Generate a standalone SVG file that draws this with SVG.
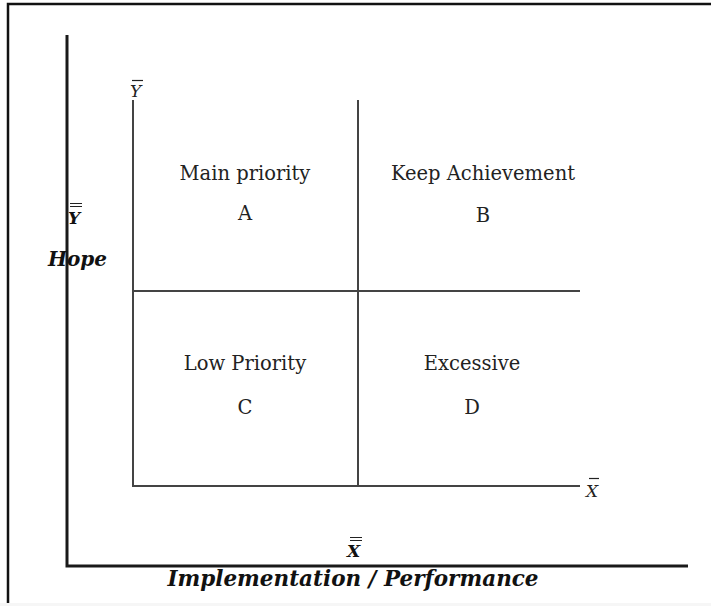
<svg xmlns="http://www.w3.org/2000/svg" width="711" height="606" viewBox="0 0 711 606">
<style>
.frame{stroke:#111;stroke-width:2.5;fill:none}
.axis{stroke:#1a1a1a;stroke-width:3;fill:none}
.grid{stroke:#444;stroke-width:2;fill:none}
.bar{stroke:#222;stroke-width:1.2;fill:none}
.lbl{font-family:"DejaVu Serif","Liberation Serif",serif;font-size:19.5px;fill:#222;text-anchor:middle}
.bi{font-family:"DejaVu Serif","Liberation Serif",serif;font-size:20px;font-weight:bold;font-style:italic;fill:#111}
.it{font-family:"DejaVu Serif","Liberation Serif",serif;font-size:17px;font-style:italic;fill:#222}
</style>
<rect x="0" y="0" width="711" height="606" fill="#ffffff"/>
<rect x="0" y="603" width="711" height="3" fill="#f6f6f6"/>
<g id="frame">
<path class="frame" d="M8,603 V4 H711"/>
</g>
<g id="connectors">
<path class="axis" d="M67,35 V566 H688"/>
<path class="grid" d="M133,100 V486 H580"/>
<path class="grid" d="M358,100 V486"/>
<path class="grid" d="M133,291 H580"/>
</g>
<g id="quadA"><text class="lbl" x="245" y="180">Main priority</text><text class="lbl" x="245" y="220">A</text></g>
<g id="quadB"><text class="lbl" x="483" y="180">Keep Achievement</text><text class="lbl" x="483" y="222">B</text></g>
<g id="quadC"><text class="lbl" x="245" y="370">Low Priority</text><text class="lbl" x="245" y="414">C</text></g>
<g id="quadD"><text class="lbl" x="472" y="370">Excessive</text><text class="lbl" x="472" y="414">D</text></g>
<g id="ybar"><text class="it" x="130" y="97">Y</text><path class="bar" d="M132,80.5 H143"/></g>
<g id="xbar"><text class="it" x="586" y="497">X</text><path class="bar" d="M589,478.5 H599"/></g>
<g id="ydbar"><text class="bi" x="68" y="224" style="font-size:17px">Y</text><path class="bar" d="M70,203.5 H82 M70,206.5 H82"/></g>
<g id="xdbar"><text class="bi" x="347" y="557" style="font-size:17px">X</text><path class="bar" d="M350,537.5 H362 M350,540.5 H362"/></g>
<g id="hope"><text class="bi" x="48" y="266">Hope</text></g>
<g id="xlabel"><text class="bi" x="353" y="586" text-anchor="middle" style="font-size:21.5px">Implementation / Performance</text></g>
</svg>
